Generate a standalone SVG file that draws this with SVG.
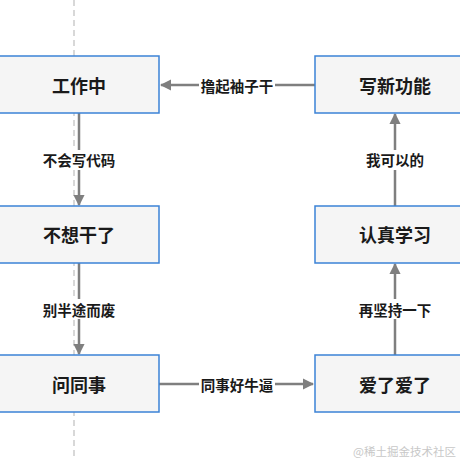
<svg xmlns="http://www.w3.org/2000/svg" width="460" height="460" viewBox="0 0 460 460">
<style>
.node rect{fill:#f5f5f5;stroke:#3b82d6;stroke-width:1.5}
.node text{font-family:"Noto Sans CJK SC","Noto Sans",sans-serif;font-size:18px;font-weight:bold;fill:#1a1a1a;text-anchor:middle;dominant-baseline:central}
.edge{stroke:#7f7f7f;stroke-width:2.5;fill:none}
.lbl-bg{fill:#ffffff}
.lbl{font-family:"Noto Sans CJK SC","Noto Sans",sans-serif;font-size:14.5px;font-weight:bold;fill:#1a1a1a;text-anchor:middle;dominant-baseline:central}
.guide{stroke:#cccccc;stroke-width:1.5;stroke-dasharray:6 4;fill:none}
</style>
<defs>
<marker id="arr" viewBox="0 0 10 10" refX="9" refY="5" markerWidth="4.6" markerHeight="4.6" markerUnits="strokeWidth" orient="auto">
<path d="M0,0 L10,5 L0,10 Z" fill="#7f7f7f"/>
</marker>
</defs>
<rect width="460" height="460" fill="#ffffff"/>
<line class="guide" x1="74" y1="0" x2="74" y2="460"/>
<g id="connectors">
<line class="edge" x1="315" y1="85" x2="161" y2="85" marker-end="url(#arr)"/>
<rect class="lbl-bg" x="199" y="75" width="76" height="20"/>
<text class="lbl" x="237" y="85">撸起袖子干</text>
<line class="edge" x1="79" y1="113" x2="79" y2="205" marker-end="url(#arr)"/>
<rect class="lbl-bg" x="41" y="150" width="76" height="20"/>
<text class="lbl" x="79" y="159.5">不会写代码</text>
<line class="edge" x1="79" y1="263" x2="79" y2="354" marker-end="url(#arr)"/>
<rect class="lbl-bg" x="41" y="299" width="76" height="20"/>
<text class="lbl" x="79" y="309">别半途而废</text>
<line class="edge" x1="159" y1="384" x2="313" y2="384" marker-end="url(#arr)"/>
<rect class="lbl-bg" x="199" y="374" width="76" height="20"/>
<text class="lbl" x="237" y="384">同事好牛逼</text>
<line class="edge" x1="395" y1="355" x2="395" y2="264" marker-end="url(#arr)"/>
<rect class="lbl-bg" x="357" y="299" width="76" height="20"/>
<text class="lbl" x="395" y="309">再坚持一下</text>
<line class="edge" x1="395" y1="206" x2="395" y2="114" marker-end="url(#arr)"/>
<rect class="lbl-bg" x="364" y="150" width="62" height="20"/>
<text class="lbl" x="395" y="159.5">我可以的</text>
</g>
<g id="n1" class="node"><rect x="-1" y="56" width="160" height="57"/><text x="79" y="84.5">工作中</text></g>
<g id="n2" class="node"><rect x="-1" y="206" width="160" height="57"/><text x="79" y="234">不想干了</text></g>
<g id="n3" class="node"><rect x="-1" y="355" width="160" height="57"/><text x="79" y="383.5">问同事</text></g>
<g id="n4" class="node"><rect x="315" y="355" width="160" height="57"/><text x="395" y="383.5">爱了爱了</text></g>
<g id="n5" class="node"><rect x="315" y="206" width="160" height="57"/><text x="395" y="234">认真学习</text></g>
<g id="n6" class="node"><rect x="315" y="56" width="160" height="57"/><text x="395" y="84.5">写新功能</text></g>
<text x="456" y="451" font-family="'Noto Sans CJK SC','Noto Sans',sans-serif" font-size="11.5" fill="#c8c8c8" text-anchor="end" dominant-baseline="central">@稀土掘金技术社区</text>
</svg>
